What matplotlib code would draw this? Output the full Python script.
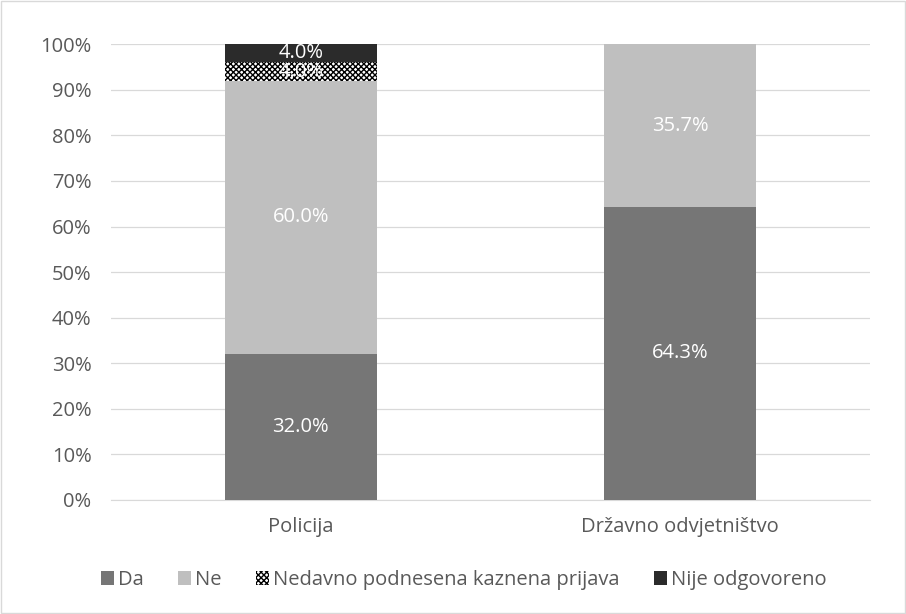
import matplotlib.pyplot as plt
from matplotlib.patches import Rectangle
import numpy as np

plt.rcParams['font.family'] = ['Open Sans', 'DejaVu Sans']
plt.rcParams['hatch.linewidth'] = 1.0

kategorije = ['Policija', 'Državno odvjetništvo']
serije = ['Da', 'Ne', 'Nedavno podnesena kaznena prijava', 'Nije odgovoreno']
da = [32.0, 64.3]
ne = [60.0, 35.7]
nedavno = [4.0, 0.0]
nije = [4.0, 0.0]
yticks = [0, 10, 20, 30, 40, 50, 60, 70, 80, 90, 100]

fs = 14.5

fig = plt.figure(figsize=(9.06, 6.14), dpi=100)
ax = fig.add_axes([0.1225, 0.1857, 0.8375, 0.7423])

x = np.arange(len(kategorije))
sirina = 0.4
dno = np.zeros(len(kategorije))
stilovi = [
    dict(color='#767676'),
    dict(color='#bfbfbf'),
    dict(facecolor='white', edgecolor='black', hatch='xxxxxx', linewidth=0),
    dict(color='#2b2b2b'),
]
for ime, vrijednosti, stil in zip(serije, [da, ne, nedavno, nije], stilovi):
    v = np.array(vrijednosti)
    bars = ax.bar(x, v, sirina, bottom=dno, label=ime, zorder=3, **stil)
    for b, val, d in zip(bars, v, dno):
        if val > 0:
            ax.text(b.get_x() + b.get_width() / 2, d + val / 2, f'{val:.1f}%',
                    ha='center', va='center', color='white', fontsize=fs, zorder=4)
    dno = dno + v

ax.set_xlim(-0.5, 1.5)
ax.set_ylim(0, 100)
ax.set_yticks(yticks)
ax.set_yticklabels([f'{t}%' for t in yticks])
ax.set_xticks(x)
ax.set_xticklabels(kategorije)
ax.tick_params(length=0, labelsize=fs, labelcolor='#595959')
ax.tick_params(axis='x', pad=12)
ax.tick_params(axis='y', pad=14)
ax.grid(axis='y', color='#d9d9d9', linewidth=0.9, zorder=0)
for s in ['top', 'right', 'left']:
    ax.spines[s].set_visible(False)
ax.spines['bottom'].set_color('#d9d9d9')

fig.legend(loc='center', bbox_to_anchor=(0.512, 0.055), ncol=4, frameon=False,
           fontsize=fs, handlelength=0.65, handleheight=0.65, handletextpad=0.2,
           columnspacing=1.7, labelcolor='#595959')

fig.patches.append(Rectangle((0.001, 0.001), 0.998, 0.998, transform=fig.transFigure,
                             fill=False, edgecolor='#d9d9d9', linewidth=1))

plt.savefig('out.png', dpi=100)
